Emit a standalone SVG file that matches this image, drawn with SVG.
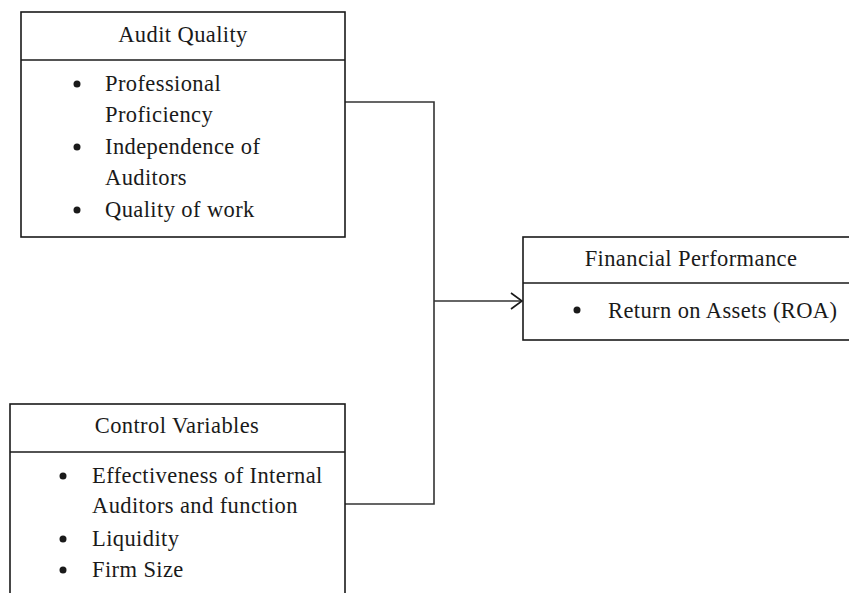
<svg xmlns="http://www.w3.org/2000/svg" width="849" height="593" viewBox="0 0 849 593">
<defs>
<style>
.box{fill:#fff;stroke:#1a1a1a;stroke-width:1.6}
.div{stroke:#1a1a1a;stroke-width:1.6}
text{font-family:"Liberation Serif","Times New Roman",serif;font-size:22.5px;letter-spacing:0.4px;fill:#1a1a1a}
.t{text-anchor:middle}
.b{fill:#1a1a1a}
.c{fill:none;stroke:#333;stroke-width:1.6}
</style>
<marker id="arr" markerWidth="14" markerHeight="18" refX="12" refY="9" orient="auto" markerUnits="userSpaceOnUse">
<path d="M1,1 L12,9 L1,17" fill="none" stroke="#1a1a1a" stroke-width="1.6"/>
</marker>
</defs>
<rect width="849" height="593" fill="#fff"/>
<g id="connectors">
<polyline class="c" points="345,102 434,102 434,504 345,504"/>
<line class="c" x1="434" y1="301" x2="522" y2="301" marker-end="url(#arr)"/>
</g>
<g id="audit-quality">
<rect class="box" x="21" y="12" width="324" height="225"/>
<line class="div" x1="21" y1="60" x2="345" y2="60"/>
<text class="t" x="183" y="42">Audit Quality</text>
<circle class="b" cx="77" cy="84" r="3.5"/>
<text x="105" y="91">Professional</text>
<text x="105" y="122">Proficiency</text>
<circle class="b" cx="77" cy="147" r="3.5"/>
<text x="105" y="154">Independence of</text>
<text x="105" y="185">Auditors</text>
<circle class="b" cx="77" cy="210" r="3.5"/>
<text x="105" y="217">Quality of work</text>
</g>
<g id="control-variables">
<rect class="box" x="10" y="404" width="335" height="200"/>
<line class="div" x1="10" y1="452" x2="345" y2="452"/>
<text class="t" x="177" y="433">Control Variables</text>
<circle class="b" cx="63" cy="476" r="3.5"/>
<text x="92" y="483">Effectiveness of Internal</text>
<text x="92" y="513">Auditors and function</text>
<circle class="b" cx="63" cy="539" r="3.5"/>
<text x="92" y="546">Liquidity</text>
<circle class="b" cx="63" cy="570" r="3.5"/>
<text x="92" y="577">Firm Size</text>
</g>
<g id="financial-performance">
<rect class="box" x="523" y="237" width="340" height="103"/>
<line class="div" x1="523" y1="283" x2="849" y2="283"/>
<text class="t" x="691" y="266">Financial Performance</text>
<circle class="b" cx="577" cy="310" r="3.5"/>
<text x="608" y="318">Return on Assets (ROA)</text>
</g>
</svg>
